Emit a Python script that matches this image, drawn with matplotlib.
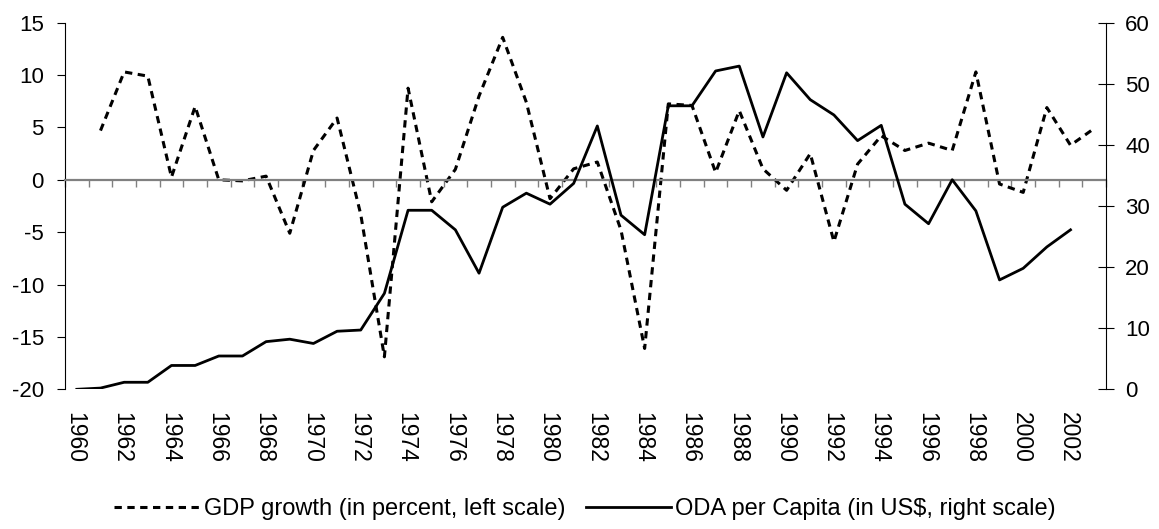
import matplotlib.pyplot as plt
import matplotlib.transforms as mtransforms
import numpy as np

plt.rcParams.update({
    'font.family': ['Liberation Sans', 'DejaVu Sans'],
    'font.size': 16,
    'axes.unicode_minus': False,
})

years = list(range(1960, 2004))

# GDP growth in percent (left scale), starts 1961
gdp_growth = [None, 4.7, 10.3, 9.9, 0.25, 7.0, 0.0, -0.1, 0.35, -5.1,
              2.8, 5.9, -3.3, -16.9, 8.75, -2.1, 1.0, 8.0, 13.6, 7.4,
              -1.8, 1.05, 1.7, -4.8, -16.1, 7.25, 7.1, 0.7, 6.6, 1.05,
              -1.0, 2.5, -5.9, 1.5, 4.2, 2.8, 3.5, 2.8, 10.3, -0.4,
              -1.2, 6.9, 3.3, 4.9]

# ODA per capita in US$ (right scale), ends 2002
oda_per_capita = [0.0, 0.2, 1.15, 1.15, 3.9, 3.9, 5.45, 5.45, 7.8, 8.2,
                  7.5, 9.5, 9.7, 15.7, 29.3, 29.3, 26.1, 19.0, 29.8, 32.1,
                  30.3, 33.7, 43.1, 28.5, 25.3, 46.4, 46.4, 52.1, 52.9, 41.3,
                  51.8, 47.4, 44.9, 40.7, 43.2, 30.3, 27.1, 34.3, 29.2, 17.9,
                  19.8, 23.3, 26.1, None]

x = np.arange(len(years))
gdp = np.array([np.nan if v is None else v for v in gdp_growth])
oda = np.array([np.nan if v is None else v for v in oda_per_capita])

fig = plt.figure(figsize=(11.59, 5.29), dpi=100)
ax = fig.add_axes([65 / 1159, 1 - 389.3 / 529, (1106 - 65) / 1159, (389.3 - 22.7) / 529])
ax2 = ax.twinx()

l1, = ax.plot(x, gdp, color='black', lw=2.2, linestyle=(0, (2.4, 1.8)),
              label='GDP growth (in percent, left scale)')
l2, = ax2.plot(x, oda, color='black', lw=2.0,
               label='ODA per Capita (in US$, right scale)')

ax.set_xlim(-0.5, len(years) - 0.5)
ax.set_ylim(-20, 15)
ax.set_yticks(np.arange(-20, 16, 5))
ax2.set_ylim(0, 60)
ax2.set_yticks(np.arange(0, 61, 10))

# category axis crossing at zero
ax.spines['top'].set_visible(False)
ax2.spines['top'].set_visible(False)
ax.spines['bottom'].set_position(('data', 0))
ax.spines['bottom'].set_color('#808080')
ax.spines['bottom'].set_linewidth(1.6)
ax2.spines['bottom'].set_visible(False)
ax.spines['left'].set_color('black')
ax2.spines['left'].set_visible(False)
ax2.spines['right'].set_color('black')
ax.spines['right'].set_visible(False)

ax.set_xticks(np.arange(-0.5, len(years), 1))
ax.set_xticklabels([])
ax.tick_params(axis='x', direction='out', length=5, color='#808080', width=1)
ax.tick_params(axis='y', direction='out', length=5.8, color='black', pad=9.4, labelsize=16)
ax2.tick_params(axis='y', direction='inout', length=11.5, color='black', pad=8, labelsize=16)

# year labels below the plot area, every second category
label_trans = mtransforms.offset_copy(ax.get_xaxis_transform(), fig=fig, x=-2, y=0, units='dots')
for i, yr in enumerate(years):
    if yr % 2 == 0:
        ax.text(i, -0.063, str(yr), rotation=-90, ha='center', va='top',
                fontsize=16.5, transform=label_trans)

fig.legend(handles=[l1, l2], loc='center', bbox_to_anchor=(0.505, 1 - 509 / 529),
           ncol=2, frameon=False, fontsize=17, handlelength=3.6,
           handletextpad=0.2, columnspacing=0.85)

fig.savefig('out.png', dpi=100)
